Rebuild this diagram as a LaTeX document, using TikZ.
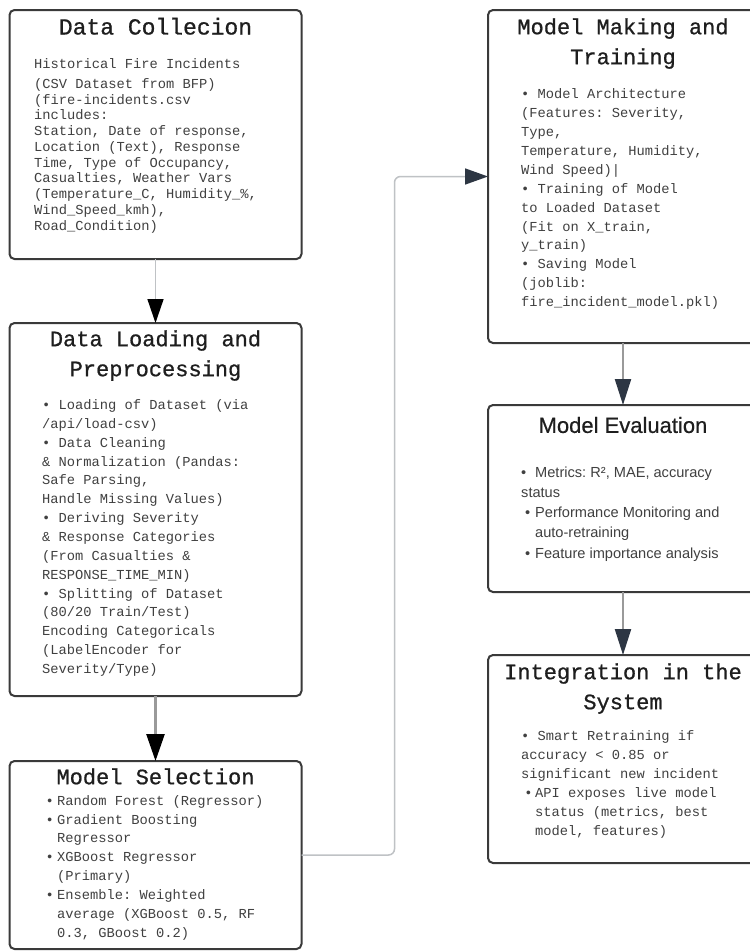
\documentclass[tikz,border=0pt]{standalone}
\usepackage{fontspec}
\setmainfont{Liberation Serif}
\newfontfamily\monof{Liberation Mono}
\newfontfamily\monotf[FakeBold=0.8]{Liberation Mono}
\newfontfamily\sansf{Liberation Sans}
\newfontfamily\sanstf[FakeBold=0.5]{Liberation Sans}
\usetikzlibrary{arrows.meta}
\definecolor{bordc}{HTML}{3A3A3A}
\definecolor{titc}{HTML}{1E1E1E}
\definecolor{bodyc}{HTML}{404040}
\definecolor{lgline}{HTML}{BFC2C5}
\definecolor{mgline}{HTML}{9A9A9A}
\definecolor{slate}{HTML}{2D3643}
\newcommand{\bs}{\rule{0pt}{12pt}}
\newcommand{\ts}{\rule{0pt}{17pt}}
\frenchspacing
\begin{document}
\begin{tikzpicture}[x=1pt,y=-1pt,
  box/.style={draw=bordc, line width=2pt, rounded corners=5pt, fill=white, inner sep=0pt, outer sep=0pt},
  ttl/.style={inner sep=0pt, anchor=north, align=center, text=titc},
  body/.style={inner sep=0pt, anchor=north west, align=left, text=bodyc},
  mbody/.style={body, font=\frenchspacing\monof\fontsize{13.75}{18.86}\selectfont},
  mttl/.style={ttl, font=\monotf\fontsize{22}{30}\selectfont}
]
\useasboundingbox[fill=white] (0,0) rectangle (750,951);

% boxes
\node[box, minimum width=292pt, minimum height=249pt] (b1) at (155.5,134.5) {};
\node[box, minimum width=292pt, minimum height=373pt] (b2) at (155.5,509.5) {};
\node[box, minimum width=292pt, minimum height=188pt] (b3) at (155.5,855) {};
\node[box, minimum width=270pt, minimum height=333pt] (b4) at (623,176.5) {};
\node[box, minimum width=270pt, minimum height=187pt] (b5) at (623,498.5) {};
\node[box, minimum width=270pt, minimum height=208pt] (b6) at (623,759) {};

% titles
\node[ttl, font=\monotf\fontsize{23}{30}\selectfont] (t1) at (155.5,17.3) {\ts Data Collecion};
\node[mttl] (t2) at (155.5,329) {\ts Data Loading and\\Preprocessing};
\node[mttl] (t3) at (155.5,767) {\ts Model Selection};
\node[mttl] (t4) at (623,17) {\ts Model Making and\\Training};
\node[ttl, font=\sanstf\fontsize{22}{30}\selectfont] (t5) at (623,415.7) {\ts Model Evaluation};
\node[mttl] (t6) at (623,662) {\ts Integration in the\\System};

% bodies
\node[body, font=\frenchspacing\monof\fontsize{13.75}{15.75}\selectfont] (d1) at (34,56) {\bs Historical Fire Incidents\\[4.3pt]
(CSV Dataset from BFP)\\
(fire-incidents.csv\\
includes:\\
Station, Date of response,\\
Location (Text), Response\\
Time, Type of Occupancy,\\
Casualties, Weather Vars\\
(Temperature\_C, Humidity\_\%,\\
Wind\_Speed\_kmh),\\
Road\_Condition)};

\node[mbody] (d2) at (42,397.3) {\bs • Loading of Dataset (via\\
/api/load-csv)\\
• Data Cleaning\\
\& Normalization (Pandas:\\
Safe Parsing,\\
Handle Missing Values)\\
• Deriving Severity\\
\& Response Categories\\
(From Casualties \&\\
RESPONSE\_TIME\_MIN)\\
• Splitting of Dataset\\
(80/20 Train/Test)\\
Encoding Categoricals\\
(LabelEncoder for\\
Severity/Type)};

\node[mbody] (d3) at (57,793) {\bs\llap{•\hspace{3.4pt}}Random Forest (Regressor)\\
\llap{•\hspace{3.4pt}}Gradient Boosting\\
Regressor\\
\llap{•\hspace{3.4pt}}XGBoost Regressor\\
(Primary)\\
\llap{•\hspace{3.4pt}}Ensemble: Weighted\\
average (XGBoost 0.5, RF\\
0.3, GBoost 0.2)};

\node[mbody, font=\frenchspacing\monof\fontsize{13.75}{18.9}\selectfont] (d4) at (521,86.5) {\bs • Model Architecture\\
(Features: Severity,\\
Type,\\
Temperature, Humidity,\\
Wind Speed)|\\
• Training of Model\\
to Loaded Dataset\\
(Fit on X\_train,\\
y\_train)\\
• Saving Model\\
(joblib:\\
fire\_incident\_model.pkl)};

\node[body, font=\frenchspacing\sansf\fontsize{14.6}{20.25}\selectfont] (d5) at (521,465) {\bs\makebox[14pt][l]{•}Metrics: R², MAE, accuracy\\
status\\
\hspace*{4pt}\makebox[10pt][l]{•}Performance Monitoring and\\
\hspace*{14pt}auto-retraining\\
\hspace*{4pt}\makebox[10pt][l]{•}Feature importance analysis};

\node[mbody, font=\frenchspacing\monof\fontsize{13.75}{19}\selectfont] (d6) at (521,728) {\bs • Smart Retraining if\\
accuracy < 0.85 or\\
significant new incident\\
\hspace*{14pt}\llap{•\hspace{2.6pt}}API exposes live model\\
\hspace*{14pt}status (metrics, best\\
\hspace*{14pt}model, features)};

% connectors
\draw[line width=1.5pt, lgline, -{Triangle[length=24pt,width=16pt,color=black]}] (b1.south) -- (b2.north);
\draw[line width=2.5pt, mgline, -{Triangle[length=27pt,width=18pt,color=black]}] (b2.south) -- (b3.north);
\draw[line width=2.2pt, mgline, -{Triangle[length=26pt,width=16pt,color=slate]}] (b4.south) -- (b5.north);
\draw[line width=2.2pt, mgline, -{Triangle[length=26pt,width=16pt,color=slate]}] (b5.south) -- (b6.north);
\draw[line width=1.5pt, lgline, rounded corners=6pt, -{Triangle[length=23pt,width=16pt,color=slate]}] (b3.east) -- ++(93,0) |- (b4.west);
\end{tikzpicture}
\end{document}
